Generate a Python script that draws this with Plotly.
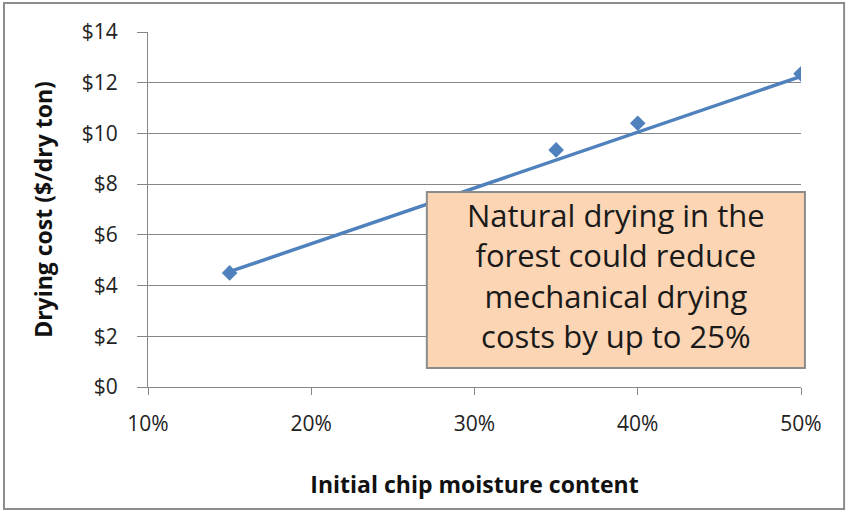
import plotly.graph_objects as go

# data
moisture = [15, 35, 40, 50]          # initial chip moisture content (%)
cost = [4.5, 9.35, 10.4, 12.35]      # drying cost ($/dry ton)

trend_x = [15, 50]
trend_y = [4.55, 12.25]

x_ticks = [10, 20, 30, 40, 50]
y_ticks = [0, 2, 4, 6, 8, 10, 12, 14]

note = ("Natural drying in the<br>forest could reduce<br>"
        "mechanical drying<br>costs by up to 25%")

blue = "#4F81BD"
grid = "#868686"
font = "Open Sans"

fig = go.Figure()

# trend line
fig.add_trace(go.Scatter(x=trend_x, y=trend_y, mode="lines",
                         line=dict(color=blue, width=3.5), hoverinfo="skip"))
# data points
fig.add_trace(go.Scatter(x=moisture, y=cost, mode="markers",
                         marker=dict(symbol="diamond", size=12, color=blue)))

fig.update_layout(
    width=847, height=512,
    margin=dict(l=148, r=46, t=32, b=125),
    paper_bgcolor="white", plot_bgcolor="white",
    showlegend=False,
    font=dict(family=font, size=21, color="#222"),
)

fig.update_xaxes(
    range=[10, 50], tickvals=x_ticks, ticktext=[f"{v}%" for v in x_ticks],
    showgrid=False, showline=True, linecolor=grid, linewidth=1,
    ticks="outside", ticklen=7, tickcolor=grid, ticklabelstandoff=11,
    zeroline=False,
    title=dict(text="<b>Initial chip moisture content</b>", standoff=40,
               font=dict(size=23, color="#111")),
)
fig.update_yaxes(
    range=[0, 14], tickvals=y_ticks, ticktext=[f"${v}" for v in y_ticks],
    showgrid=True, gridcolor=grid, gridwidth=1,
    showline=True, linecolor=grid, linewidth=1,
    ticks="outside", ticklen=10, tickcolor=grid, ticklabelstandoff=15,
    zeroline=False,
    title=dict(text="<b>Drying cost ($/dry ton)</b>", standoff=22,
               font=dict(size=23, color="#111")),
)

# text box
fig.add_shape(type="rect", xref="paper", yref="paper",
              x0=0.427, x1=1.006, y0=0.0535, y1=0.549,
              fillcolor="#FCD5B4", line=dict(color="#8C8C8C", width=2),
              layer="above")
fig.add_annotation(xref="paper", yref="paper", x=0.7165, y=0.313,
                   xanchor="center", yanchor="middle",
                   text=note, showarrow=False, align="center",
                   font=dict(size=31, color="#1a1a1a", family=font))

# outer chart frame
fig.add_shape(type="rect", xref="paper", yref="paper",
              x0=-0.2205, x1=1.066, y0=-0.3437, y1=1.0817,
              line=dict(color="#8C8C8C", width=2), layer="below")

fig.write_html("out.html", config={"displayModeBar": False},
               post_script="document.body.style.margin='0';")
